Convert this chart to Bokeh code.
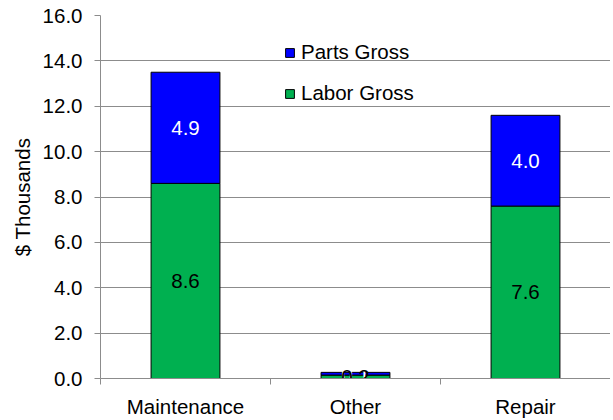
from bokeh.plotting import figure
from bokeh.models import ColumnDataSource, FixedTicker, Legend, LegendItem, Range1d
from bokeh.core.properties import value
from bokeh.embed import file_html
from bokeh.resources import INLINE

categories = ["Maintenance", "Other", "Repair"]
labor_gross = [8.6, 0.15, 7.6]
parts_gross = [4.9, 0.12, 4.0]
labor_labels = ["8.6", "0.2", "7.6"]
parts_labels = ["4.9", "0.1", "4.0"]
y_ticks = [0, 2, 4, 6, 8, 10, 12, 14, 16]

FONT = "Liberation Sans"
FS = "20.5px"
xs = [i + 0.5 for i in range(len(categories))]
parts_bottom = labor_gross
parts_top = [l + p for l, p in zip(labor_gross, parts_gross)]

src = ColumnDataSource(dict(
    x=xs, labor=labor_gross, pb=parts_bottom, pt=parts_top,
    ly=[l / 2 for l in labor_gross],
    py=[l + p / 2 for l, p in zip(labor_gross, parts_gross)],
    ll=labor_labels, pl=parts_labels,
))

p = figure(width=610, height=420, output_backend="svg", toolbar_location=None,
           x_range=Range1d(0, 3), y_range=Range1d(0, 16),
           min_border_left=100, min_border_right=0, min_border_top=15, min_border_bottom=38)
p.outline_line_color = None
p.background_fill_color = "white"

lab = p.vbar(x="x", top="labor", bottom=0, width=0.405, source=src,
             fill_color="#00B050", line_color="black", line_width=1)
par = p.vbar(x="x", top="pt", bottom="pb", width=0.405, source=src,
             fill_color="#0000FF", line_color="black", line_width=1)

p.text(x="x", y="py", text="pl", source=src, text_align="center", text_baseline="middle",
       text_font=value(FONT), text_font_size=FS, text_color="white")
p.text(x="x", y="ly", text="ll", source=src, text_align="center", text_baseline="middle",
       text_font=value(FONT), text_font_size=FS, text_color="black")

# axes
p.yaxis.ticker = FixedTicker(ticks=y_ticks)
p.yaxis.major_label_overrides = {t: f"{t:.1f}" for t in y_ticks}
p.yaxis.axis_label = "$ Thousands"
p.yaxis.axis_label_text_font = FONT
p.yaxis.axis_label_text_font_style = "normal"
p.yaxis.axis_label_text_font_size = FS
p.yaxis.axis_label_text_color = "black"
p.yaxis.axis_label_standoff = 6
p.yaxis.major_label_text_font = FONT
p.yaxis.major_label_text_font_size = FS
p.yaxis.major_label_text_color = "black"
p.yaxis.major_label_standoff = 12
p.yaxis.axis_line_color = "#8C8C8C"
p.yaxis.major_tick_line_color = "#8C8C8C"
p.yaxis.major_tick_out = 6
p.yaxis.major_tick_in = 0
p.yaxis.minor_tick_line_color = None

p.xaxis.ticker = FixedTicker(ticks=xs, minor_ticks=[0, 1, 2, 3])
p.xaxis.major_label_overrides = {x: c for x, c in zip(xs, categories)}
p.xaxis.major_label_text_font = FONT
p.xaxis.major_label_text_font_size = FS
p.xaxis.major_label_text_color = "black"
p.xaxis.axis_line_color = "#8C8C8C"
p.xaxis.major_tick_line_color = None
p.xaxis.major_tick_out = 0
p.xaxis.major_tick_in = 0
p.xaxis.minor_tick_line_color = "#8C8C8C"
p.xaxis.minor_tick_out = 6
p.xaxis.minor_tick_in = 0
p.xaxis.major_label_standoff = 10

p.xgrid.grid_line_color = None
p.ygrid.grid_line_color = "#8C8C8C"
p.ygrid.grid_line_width = 1

legend = Legend(items=[LegendItem(label="Parts Gross", renderers=[par]),
                       LegendItem(label="Labor Gross", renderers=[lab])],
                location=(184, 273))
legend.border_line_color = None
legend.background_fill_alpha = 0
legend.label_text_font = FONT
legend.label_text_font_size = FS
legend.label_text_color = "black"
legend.glyph_width = 11
legend.glyph_height = 11
legend.spacing = 17
legend.label_standoff = 6
p.add_layout(legend)

open("out.html", "w").write(file_html(p, INLINE))
